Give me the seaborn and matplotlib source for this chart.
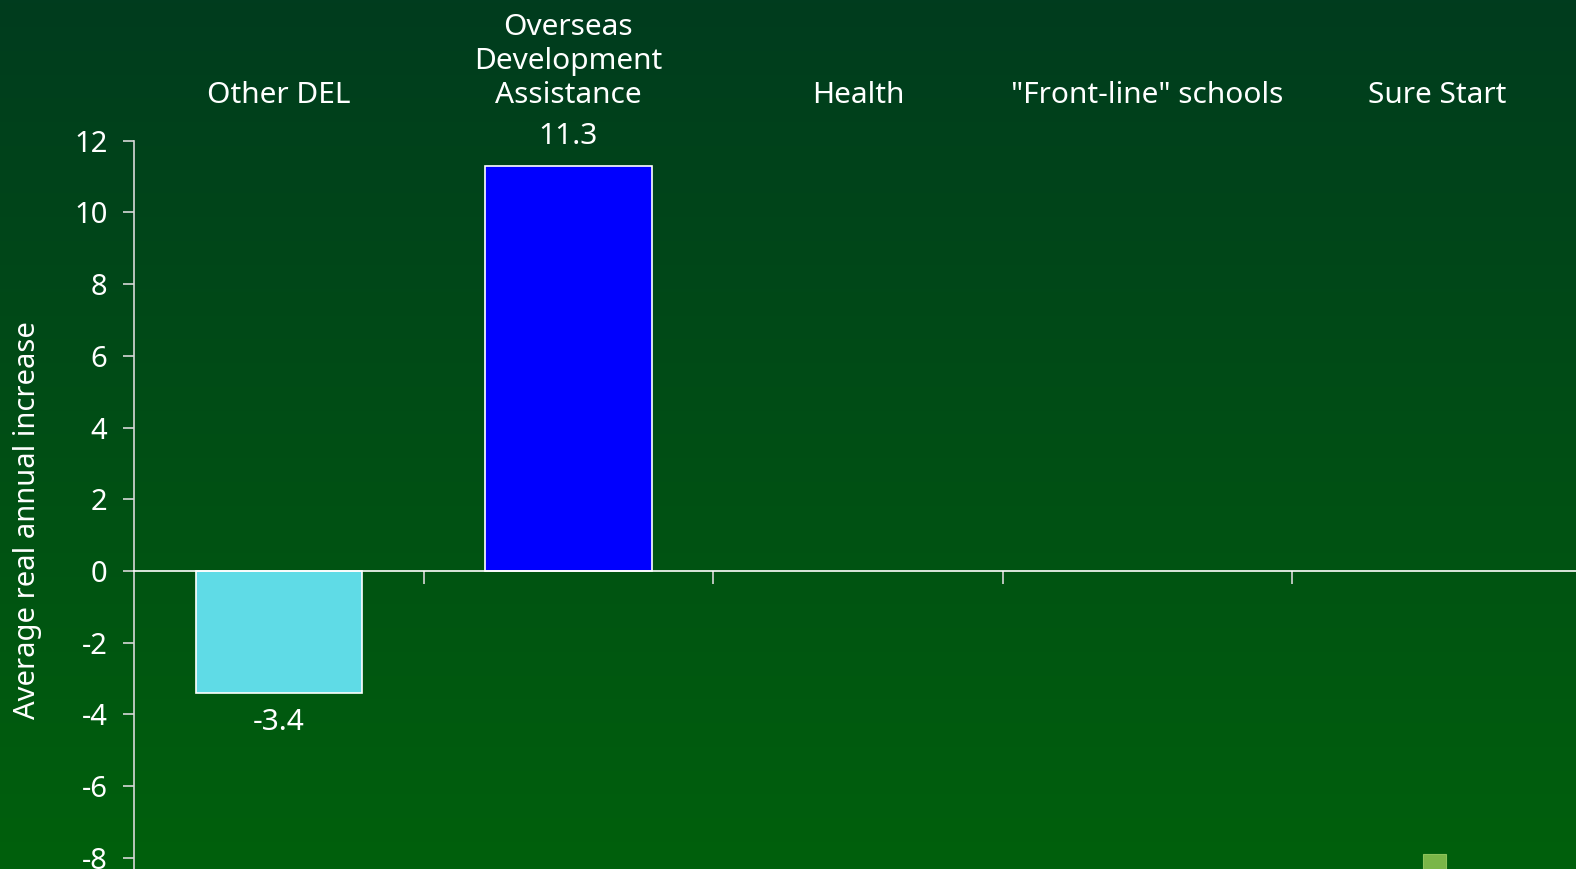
import numpy as np
import pandas as pd
import matplotlib
matplotlib.use("Agg")
import matplotlib.pyplot as plt
import matplotlib.transforms as mtransforms
import seaborn as sns

# Data
categories = ["Other DEL", "Overseas\nDevelopment\nAssistance", "Health",
              "\"Front-line\" schools", "Sure Start"]
values = [-3.4, 11.3, np.nan, np.nan, np.nan]
value_labels = ["-3.4", "11.3", "", "", ""]
bar_colors = ["#5fdbe6", "#0000ff", "#5fdbe6", "#5fdbe6", "#7ab648"]
y_ticks = [-8, -6, -4, -2, 0, 2, 4, 6, 8, 10, 12]

# small sliver of the Sure Start bar visible at the bottom edge
sliver_cat = "Sure Start"
sliver_top = -7.9

sns.set_style("white")
plt.rcParams["font.family"] = ["Noto Sans", "DejaVu Sans"]

fig = plt.figure(figsize=(15.76, 8.69), dpi=100)

# background gradient
bg = fig.add_axes([0, 0, 1, 1], zorder=-10)
grad = np.linspace(0, 1, 256).reshape(-1, 1)
top_col = np.array([0x00, 0x3c, 0x1e]) / 255
bot_col = np.array([0x00, 0x60, 0x0c]) / 255
img = top_col + (bot_col - top_col) * grad[..., None]
bg.imshow(img, aspect="auto", extent=[0, 1, 0, 1])
bg.axis("off")

ax = fig.add_axes([0.085, 0.0, 0.915, 0.8382])
ax.patch.set_alpha(0)

df = pd.DataFrame({"cat": categories, "val": values})
sns.barplot(data=df, x="cat", y="val", hue="cat", order=categories,
            palette=dict(zip(categories, bar_colors)), legend=False,
            width=0.575, edgecolor="white", linewidth=1.2, saturation=1, ax=ax)

# sliver at bottom
ax.bar(categories.index(sliver_cat) - 0.01, -1.0, bottom=sliver_top, width=0.078,
       color="#7ab648", edgecolor="#8cc35a", linewidth=0.8, zorder=3)

ax.set_ylim(-8.31, 12)
ax.set_xlim(-0.5, 4.479)
ax.set_yticks(y_ticks)
ax.set_yticklabels([str(t) for t in y_ticks], color="white", fontsize=21)
ax.set_xticks([0.5, 1.5, 2.5, 3.5])
ax.set_xticklabels([])
ax.tick_params(axis="y", direction="out", length=8, width=1.2, color="#d8d8d8", pad=11, left=True)
ax.tick_params(axis="x", direction="out", length=9, width=1.2, color="#d8d8d8", bottom=True)

for s in ["top", "right"]:
    ax.spines[s].set_visible(False)
ax.spines["left"].set_color("#d8d8d8")
ax.spines["left"].set_linewidth(1.2)
ax.spines["bottom"].set_position(("data", 0))
ax.spines["bottom"].set_color("white")
ax.spines["bottom"].set_linewidth(1.2)

ax.set_xlabel("")
ax.set_ylabel("Average real annual increase", color="white", fontsize=21)
ax.yaxis.set_label_coords(-0.064, 0.479)

# category labels on top
trans = mtransforms.blended_transform_factory(ax.transData, fig.transFigure)
for i, c in enumerate(categories):
    ax.text(i, 1 - 110 / 869, c, transform=trans, ha="center", va="bottom",
            color="white", fontsize=21.5, linespacing=1.22)

# value labels
for i, (v, lab) in enumerate(zip(values, value_labels)):
    if not lab:
        continue
    off = 0.82 if v > 0 else -0.82
    ax.text(i, v + off, lab, ha="center", va="center", color="white", fontsize=21.5)

fig.savefig("out.png", dpi=100)
